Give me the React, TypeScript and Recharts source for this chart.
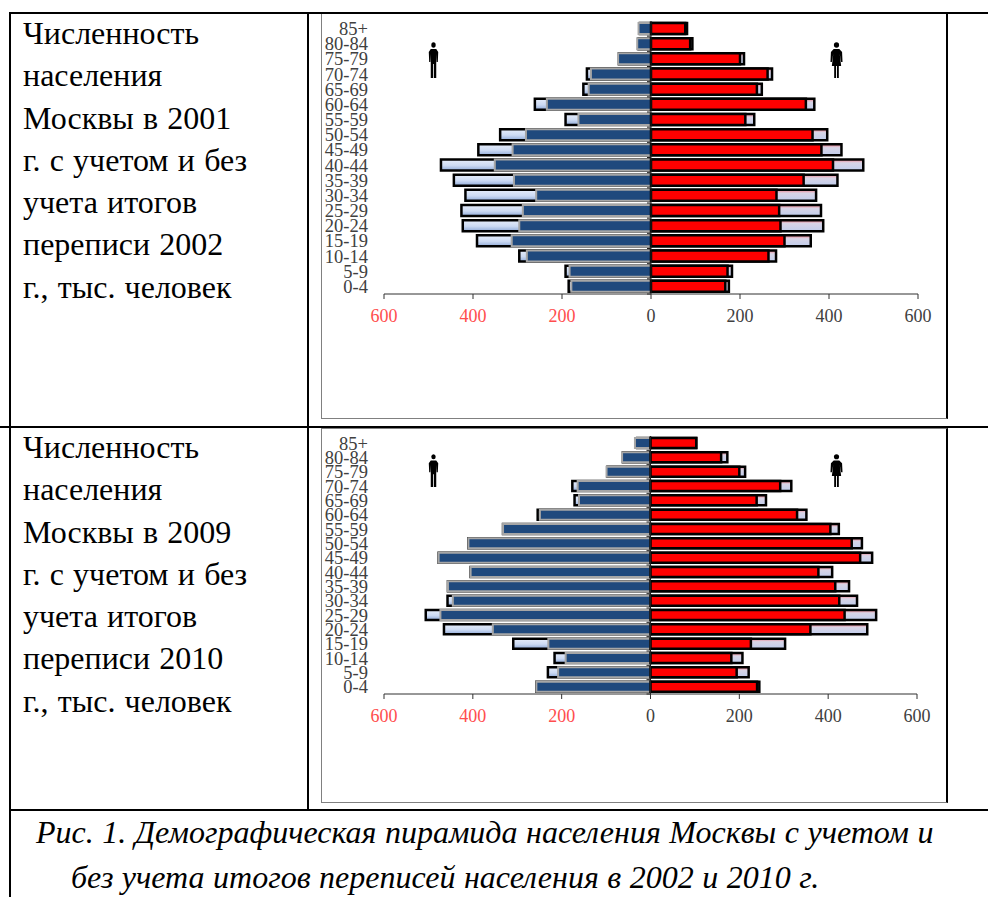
import React from 'react';
import { BarChart, Bar, XAxis, YAxis, ReferenceLine } from 'recharts';

// ---------------------------------------------------------------------------
// Data (thousands of people)
// ---------------------------------------------------------------------------

const ageGroups = [
  '85+', '80-84', '75-79', '70-74', '65-69', '60-64', '55-59', '50-54', '45-49',
  '40-44', '35-39', '30-34', '25-29', '20-24', '15-19', '10-14', '5-9', '0-4',
];

const male2001Inner = [28, 31, 74, 135, 140, 234, 163, 281, 311, 351, 308, 258, 288, 296, 313, 279, 183, 179];
const male2001Outer = [25, 28, 72, 144, 152, 261, 192, 339, 388, 472, 443, 417, 426, 423, 391, 296, 192, 185];
const female2001Inner = [77, 88, 200, 262, 238, 348, 212, 363, 383, 409, 343, 282, 288, 291, 300, 264, 172, 167];
const female2001Outer = [81, 93, 209, 272, 249, 367, 232, 396, 428, 477, 419, 371, 382, 387, 359, 281, 182, 175];

const male2009Inner = [35, 64, 99, 164, 161, 249, 332, 410, 477, 405, 456, 445, 473, 355, 230, 191, 208, 257];
const male2009Outer = [30, 62, 97, 176, 171, 254, 332, 410, 477, 405, 456, 457, 506, 465, 309, 216, 231, 257];
const female2009Inner = [103, 159, 200, 292, 239, 330, 405, 453, 472, 378, 416, 425, 437, 360, 226, 182, 194, 240];
const female2009Outer = [103, 173, 213, 317, 260, 351, 424, 476, 499, 409, 447, 465, 508, 488, 303, 207, 221, 245];

const xTicks = [-600, -400, -200, 0, 200, 400, 600];

const textRows2001 = [
  'Численность', 'населения', 'Москвы в 2001', 'г. с учетом и без',
  'учета итогов', 'переписи 2002', 'г., тыс. человек',
];
const textRows2009 = [
  'Численность', 'населения', 'Москвы в 2009', 'г. с учетом и без',
  'учета итогов', 'переписи 2010', 'г., тыс. человек',
];
const captionRow1 = 'Рис. 1. Демографическая пирамида населения Москвы с учетом и';
const captionRow2 = 'без учета итогов переписей населения в 2002 и 2010 г.';

const SERIF = '"Liberation Serif", "Times New Roman", serif';

// ---------------------------------------------------------------------------
// Small pieces
// ---------------------------------------------------------------------------

const XTick = (props: any) => {
  const { x, y, payload } = props;
  const v = payload.value;
  return (
    <text
      x={x}
      y={y}
      dy={21}
      textAnchor="middle"
      fontFamily={SERIF}
      fontSize={18}
      fill={v < 0 ? '#ff4d4d' : '#404040'}
    >
      {Math.abs(v)}
    </text>
  );
};

// centre line with a small tick between the rows
const CentreLine = (props: any) => {
  const { x1, y1, y2 } = props;
  const step = (y2 - y1) / ageGroups.length;
  return (
    <g stroke="#202020" strokeWidth={1}>
      <line x1={x1} y1={y1} x2={x1} y2={y2} />
      {ageGroups.map((g, i) => (
        <line key={g} x1={x1 - 4} x2={x1} y1={y1 + i * step} y2={y1 + i * step} />
      ))}
    </g>
  );
};

const ManIcon: React.FC<{ x: number; y: number; h: number }> = ({ x, y, h }) => (
  <svg
    width={11}
    height={h}
    viewBox="0 0 14 36"
    preserveAspectRatio="none"
    style={{ position: 'absolute', left: x - 5.5, top: y }}
  >
    <circle cx={7} cy={3} r={2.8} fill="#000" />
    <path d="M3.5 7 H10.5 L13 10 L12.5 20 H11 L10.5 12 V36 H7.5 V22 H6.5 V36 H3.5 V12 L3 20 H1.5 L1 10 Z" fill="#000" />
  </svg>
);

const WomanIcon: React.FC<{ x: number; y: number; h: number }> = ({ x, y, h }) => (
  <svg
    width={13}
    height={h}
    viewBox="0 0 14 36"
    preserveAspectRatio="none"
    style={{ position: 'absolute', left: x - 6.5, top: y }}
  >
    <circle cx={7} cy={3} r={2.8} fill="#000" />
    <path d="M4 7 H10 L13 10 L13.5 20 H12 L10.5 12 L12 24 H9.5 V36 H7.5 V24 H6.5 V36 H4.5 V24 H2 L3.5 12 L2 20 H0.5 L1 10 Z" fill="#000" />
  </svg>
);

// ---------------------------------------------------------------------------
// Pyramid
// ---------------------------------------------------------------------------

interface PyramidProps {
  id: string;
  top: number;
  height: number;
  axisHeight: number;
  barSize: number;
  right: number;
  maleInner: number[];
  maleOuter: number[];
  femaleInner: number[];
  femaleOuter: number[];
}

const Pyramid: React.FC<PyramidProps> = ({
  id, top, height, axisHeight, barSize, right, maleInner, maleOuter, femaleInner, femaleOuter,
}) => {
  const rows = ageGroups.map((age, i) => ({
    age,
    maleInner: -maleInner[i],
    maleOuter: -maleOuter[i],
    femaleInner: femaleInner[i],
    femaleOuter: femaleOuter[i],
  }));

  return (
    <div
      style={{
        position: 'absolute',
        left: 321,
        top,
        width: 624,
        height,
        borderLeft: '1px solid #808080',
        borderTop: '1px solid #808080',
        borderBottom: '1.5px solid #808080',
        borderRight: '2px solid #000',
        background: '#fff',
      }}
    >
      <BarChart
        width={624}
        height={height}
        data={rows}
        layout="vertical"
        barSize={barSize}
        barGap={-barSize}
        margin={{ top: 7, right, bottom: 0, left: 0 }}
      >
        <defs>
          <linearGradient id={`${id}-male`} x1="0" y1="0" x2="0" y2="1">
            <stop offset="0%" stopColor="#e6edfa" />
            <stop offset="55%" stopColor="#ccdaf3" />
            <stop offset="100%" stopColor="#8faad8" />
          </linearGradient>
          <linearGradient id={`${id}-female`} x1="0" y1="0" x2="0" y2="1">
            <stop offset="0%" stopColor="#f0808c" />
            <stop offset="30%" stopColor="#d8d4e6" />
            <stop offset="100%" stopColor="#c0cdec" />
          </linearGradient>
        </defs>
        <XAxis
          type="number"
          domain={[-600, 600]}
          ticks={xTicks}
          height={axisHeight}
          tick={<XTick />}
          tickSize={5}
          interval={0}
          axisLine={{ stroke: '#303030' }}
          tickLine={{ stroke: '#303030' }}
        />
        <YAxis
          type="category"
          dataKey="age"
          width={62}
          interval={0}
          axisLine={false}
          tickLine={false}
          tickMargin={10}
          tick={{ fill: '#404040', fontSize: 18.5, fontFamily: SERIF }}
        />
        <Bar
          dataKey="maleOuter"
          fill={`url(#${id}-male)`}
          stroke="#000"
          strokeWidth={2.5}
          isAnimationActive={false}
        />
        <Bar
          dataKey="femaleOuter"
          fill={`url(#${id}-female)`}
          stroke="#000"
          strokeWidth={2.5}
          isAnimationActive={false}
        />
        <Bar
          dataKey="maleInner"
          fill="#1f497d"
          stroke="#a6a6a6"
          strokeWidth={2}
          isAnimationActive={false}
        />
        <Bar
          dataKey="femaleInner"
          fill="#ff0000"
          stroke="#000"
          strokeWidth={2.5}
          isAnimationActive={false}
        />
        <ReferenceLine x={0} shape={<CentreLine />} />
      </BarChart>
    </div>
  );
};

// ---------------------------------------------------------------------------
// Page
// ---------------------------------------------------------------------------

const Rule: React.FC<{ x: number; y: number; w: number; h: number }> = ({ x, y, w, h }) => (
  <div style={{ position: 'absolute', left: x, top: y, width: w, height: h, background: '#000' }} />
);

const CellText: React.FC<{ rows: string[]; top: number }> = ({ rows, top }) => (
  <div style={{ position: 'absolute', left: 23, top, fontFamily: SERIF, fontSize: 32, wordSpacing: 1.2, lineHeight: '42.3px', color: '#000' }}>
    {rows.map((r) => (
      <div key={r} style={{ whiteSpace: 'nowrap' }}>{r}</div>
    ))}
  </div>
);

const Caption: React.FC<{ text: string; x: number; y: number }> = ({ text, x, y }) => (
  <div
    style={{
      position: 'absolute',
      left: x,
      top: y,
      fontFamily: SERIF,
      fontStyle: 'italic',
      fontSize: 32,
      wordSpacing: 0.5,
      lineHeight: '32px',
      whiteSpace: 'nowrap',
      color: '#000',
    }}
  >
    {text}
  </div>
);

export default function App() {
  return (
    <div style={{ position: 'absolute', left: 0, top: 0, width: 988, height: 897, overflow: 'hidden', background: '#fff' }}>
      <Pyramid
        id="p2001"
        top={13}
        height={404}
        axisHeight={124}
        barSize={11}
        right={28}
        maleInner={male2001Inner}
        maleOuter={male2001Outer}
        femaleInner={female2001Inner}
        femaleOuter={female2001Outer}
      />
      <Pyramid
        id="p2009"
        top={428}
        height={373}
        axisHeight={108}
        barSize={10}
        right={29}
        maleInner={male2009Inner}
        maleOuter={male2009Outer}
        femaleInner={female2009Inner}
        femaleOuter={female2009Outer}
      />
      <ManIcon x={433} y={42} h={36} />
      <WomanIcon x={836.5} y={42} h={36} />
      <ManIcon x={433} y={454} h={33} />
      <WomanIcon x={836} y={454} h={33} />

      <Rule x={9} y={12} w={979} h={2} />
      <Rule x={0} y={426} w={988} h={2} />
      <Rule x={9} y={809} w={979} h={2} />
      <Rule x={9} y={12} w={2} h={885} />
      <Rule x={307} y={12} w={2} h={798} />

      <CellText rows={textRows2001} top={12} />
      <CellText rows={textRows2009} top={426} />
      <Caption text={captionRow1} x={36} y={816} />
      <Caption text={captionRow2} x={71} y={861} />
    </div>
  );
}
